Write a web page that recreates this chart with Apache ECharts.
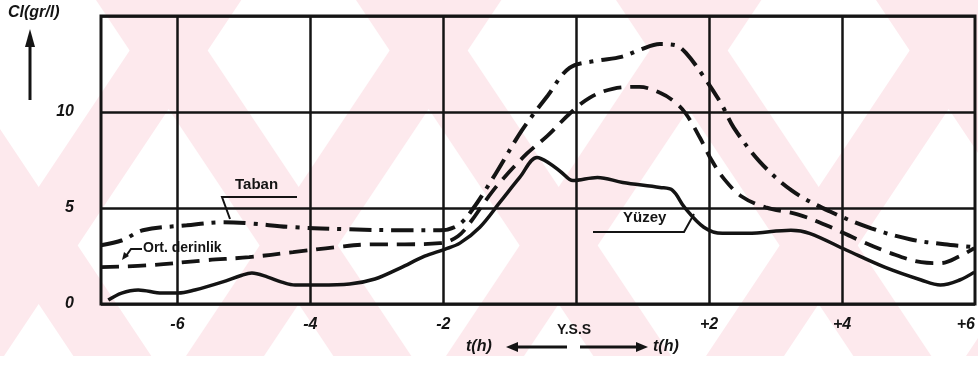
<!DOCTYPE html>
<html>
<head>
<meta charset="utf-8">
<script src="https://cdn.jsdelivr.net/npm/echarts@6/dist/echarts.min.js"></script>
<style>
  html, body { margin: 0; padding: 0; background: #ffffff; }
  #chart { width: 978px; height: 365px; }
</style>
</head>
<body>
<div id="chart"></div>
<script>
// Chloride concentration Cl (gr/l) through the tide, hours relative to high water slack (Y.S.S)

// Taban (bottom layer)
const tabanHours  = [-7.15, -6.83, -6.52, -5.86, -5.30, -4.92, -4.26, -3.42, -2.58, -2.05, -1.78, -1.57, -1.21, -0.82, -0.43, -0.10, 0.29, 0.68, 0.95, 1.26, 1.48, 1.65, 1.93, 2.19, 2.37, 2.76, 3.24, 3.81, 4.44, 5.02, 5.54, 5.99];
const tabanValues = [3.06, 3.32, 3.84, 4.10, 4.26, 4.20, 4.00, 3.89, 3.84, 3.84, 4.10, 4.88, 6.80, 9.03, 10.85, 12.30, 12.66, 12.87, 13.23, 13.54, 13.49, 13.08, 11.78, 10.38, 9.19, 7.42, 5.92, 4.83, 3.94, 3.37, 3.11, 2.96];

// Ort. derinlik (mean depth)
const ortHours  = [-7.15, -6.41, -5.57, -4.92, -4.26, -3.62, -3.05, -2.58, -2.05, -1.78, -1.57, -1.36, -1.15, -0.74, -0.43, -0.10, 0.20, 0.55, 0.95, 1.26, 1.48, 1.65, 1.86, 2.04, 2.23, 2.49, 2.85, 3.33, 3.80, 4.26, 4.73, 5.19, 5.48, 5.77, 5.99];
const ortValues = [1.92, 2.02, 2.28, 2.44, 2.70, 2.96, 3.11, 3.11, 3.17, 3.53, 4.36, 5.40, 6.33, 7.84, 8.77, 9.91, 10.74, 11.21, 11.31, 11.00, 10.53, 9.91, 8.67, 7.47, 6.49, 5.60, 5.03, 4.67, 4.05, 3.32, 2.65, 2.18, 2.13, 2.49, 2.91];

// Yüzey (surface)
const yuzeyHours  = [-7.04, -6.84, -6.59, -6.23, -5.99, -5.74, -5.33, -5.03, -4.88, -4.64, -4.43, -4.23, -3.86, -3.41, -3.03, -2.65, -2.28, -1.98, -1.75, -1.45, -1.15, -0.85, -0.59, -0.40, -0.22, -0.05, 0.32, 0.70, 1.26, 1.45, 1.63, 1.92, 2.20, 2.58, 3.23, 3.51, 4.07, 4.64, 5.19, 5.48, 5.77, 5.99];
const yuzeyValues = [0.21, 0.57, 0.73, 0.57, 0.57, 0.73, 1.14, 1.50, 1.61, 1.40, 1.14, 0.99, 0.99, 1.04, 1.30, 1.87, 2.49, 2.85, 3.17, 4.00, 5.29, 6.59, 7.63, 7.32, 6.85, 6.43, 6.59, 6.33, 6.07, 5.92, 5.03, 4.00, 3.68, 3.68, 3.84, 3.68, 2.80, 1.92, 1.25, 0.99, 1.25, 1.66];

// Axis ticks
const xTickValues = [-6, -4, -2, 2, 4, 6];
const xGridValues = [-6, -4, -2, 0, 2, 4];
const yTickValues = [0, 5, 10];
const seriesNames = ['Taban', 'Ort. derinlik', 'Yüzey'];

const INK = '#141414';
const TINT = '#fde9ed';
const FONT = '"Liberation Sans", Arial, sans-serif';
const TINT_BOTTOM = 356;
const pairUp = (hs, vs) => hs.map((h, i) => [h, vs[i]]);

const chart = echarts.init(document.getElementById('chart'), null, { renderer: 'canvas' });

const curve = (name, hs, vs, width, dash) => ({
  name: name,
  type: 'line',
  data: pairUp(hs, vs),
  smooth: 0.35,
  showSymbol: false,
  silent: true,
  lineStyle: { color: INK, width: width, type: dash, cap: 'butt' },
  z: 3
});

const yuzey = curve(seriesNames[2], yuzeyHours, yuzeyValues, 3.5, 'solid');
// vertical grid lines every 2 hours
yuzey.markLine = {
  silent: true,
  symbol: ['none', 'none'],
  label: { show: false },
  lineStyle: { color: INK, width: 2.5, type: 'solid' },
  data: xGridValues.map(v => ({ xAxis: v }))
};

const txt = (text, x, y, font, align) => ({
  type: 'text', x: x, y: y, silent: true,
  style: { text: text, font: font, fill: INK, align: align || 'left', verticalAlign: 'top' }
});
const pline = (pts, w) => ({
  type: 'polyline', silent: true,
  shape: { points: pts },
  style: { stroke: INK, lineWidth: w || 2, fill: null }
});
const poly = (pts, fill, z) => ({
  type: 'polygon', silent: true, z: z || 10,
  shape: { points: pts },
  style: { fill: fill || INK }
});

// faint diagonal paper tint behind the plot
const tint = [];
const band = 78, period = 260, slope = 1.5;
const run = TINT_BOTTOM / slope;
for (let k = -2; k < 5; k++) {
  const a = 96 + k * period;
  tint.push(poly([[a, 0], [a + band, 0], [a + band + run, TINT_BOTTOM], [a + run, TINT_BOTTOM]], TINT, -20));
  const b = 186 + k * period;
  tint.push(poly([[b, TINT_BOTTOM], [b + band, TINT_BOTTOM], [b + band + run, 0], [b + run, 0]], TINT, -20));
}

chart.setOption({
  animation: false,
  backgroundColor: '#ffffff',
  grid: { left: 101, right: 2, top: 16, bottom: 61, show: true, borderColor: INK, borderWidth: 3, backgroundColor: 'transparent' },
  xAxis: {
    type: 'value', min: -7.15, max: 6,
    axisLine: { show: false }, axisTick: { show: false }, splitLine: { show: false },
    axisLabel: {
      customValues: xTickValues,
      formatter: v => (v > 0 ? '+' + v : String(v)),
      color: INK, fontFamily: FONT, fontStyle: 'italic', fontWeight: 'bold', fontSize: 16,
      margin: 13, alignMaxLabel: 'right'
    }
  },
  yAxis: {
    type: 'value', min: 0, max: 15, interval: 5,
    axisLine: { show: false }, axisTick: { show: false },
    splitLine: { show: true, lineStyle: { color: INK, width: 2.5 } },
    axisLabel: {
      customValues: yTickValues,
      color: INK, fontFamily: FONT, fontStyle: 'italic', fontWeight: 'bold', fontSize: 16, margin: 27
    }
  },
  series: [
    curve(seriesNames[0], tabanHours, tabanValues, 4, [22, 8, 4, 8]),
    curve(seriesNames[1], ortHours, ortValues, 3.8, [18, 9]),
    yuzey
  ],
  graphic: tint.concat([
    // y-axis title with upward arrow
    txt('Cl(gr/l)', 8, 5, 'italic bold 16px ' + FONT),
    pline([[30, 100], [30, 44]], 3),
    poly([[25, 47], [35, 47], [30, 29]]),
    // series annotations
    txt(seriesNames[0], 235, 177, 'bold 15px ' + FONT),
    pline([[297, 197], [222, 197], [230, 219]], 2),
    txt(seriesNames[1], 143, 241, 'bold 14px ' + FONT),
    pline([[142, 249], [131, 249], [126, 256]], 2),
    poly([[122, 260], [124, 252], [129, 256]]),
    txt(seriesNames[2], 623, 210, 'bold 15px ' + FONT),
    pline([[593, 232], [684, 232], [694, 214]], 2),
    // time axis caption
    txt('Y.S.S', 574, 323, 'bold 14px ' + FONT, 'center'),
    txt('t(h)', 466, 339, 'italic bold 16px ' + FONT),
    pline([[567, 347], [516, 347]], 3),
    poly([[506, 347], [518, 342], [518, 352]]),
    pline([[580, 347], [636, 347]], 3),
    poly([[648, 347], [636, 342], [636, 352]]),
    txt('t(h)', 653, 339, 'italic bold 16px ' + FONT)
  ])
});
</script>
</body>
</html>
